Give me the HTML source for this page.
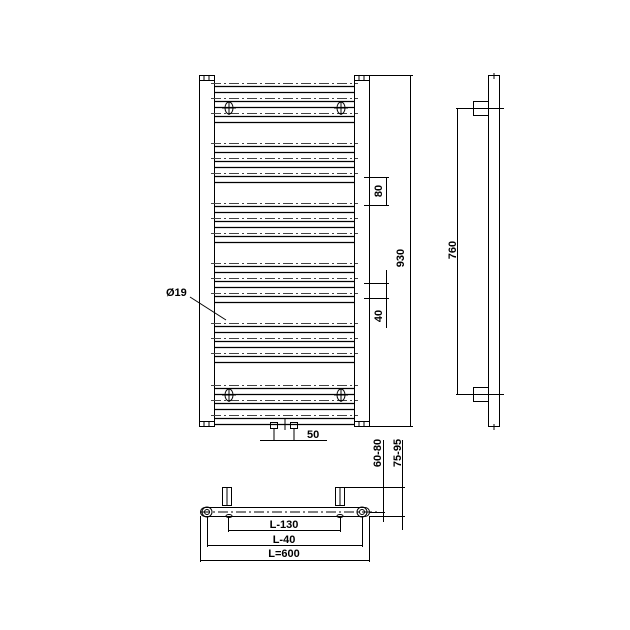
<!DOCTYPE html>
<html><head><style>body{margin:0;background:#fff}svg{display:block}</style></head><body>
<svg width="630" height="630" viewBox="0 0 630 630" xmlns="http://www.w3.org/2000/svg" font-family="Liberation Sans, sans-serif" font-weight="bold">
<rect width="630" height="630" fill="#fff"/>
<g stroke="#000" fill="none" stroke-width="1">
<rect x="199.5" y="75.5" width="15" height="351"/>
<rect x="354.5" y="75.5" width="15" height="351"/>
<rect x="199.5" y="75.5" width="15" height="5"/><rect x="354.5" y="75.5" width="15" height="5"/>
<rect x="199.5" y="421.5" width="15" height="5"/><rect x="354.5" y="421.5" width="15" height="5"/>
<path d="M204 75v5M209 75v5M359 75v5M364 75v5M204 422v5M209 422v5M359 422v5M364 422v5"/>
</g>
<g stroke="#000" stroke-width="1" fill="none">
<g id="grp">
<path d="M215 86.5h139M215 92.5h139M215 101.5h139M215 107.5h139M215 116.5h139M215 122.5h139" stroke-width="1.2"/>
<path d="M211 83.5h147M211 98.5h147M211 113.5h147" stroke-dasharray="10 3 2 3" stroke="#444"/>
</g>
<use href="#grp" y="60"/><use href="#grp" y="120"/><use href="#grp" y="180"/><use href="#grp" y="240"/><use href="#grp" y="302"/>
<ellipse cx="229" cy="108" rx="4" ry="6"/><ellipse cx="341" cy="108" rx="4" ry="6"/>
<ellipse cx="229" cy="395" rx="4" ry="6"/><ellipse cx="341" cy="395" rx="4" ry="6"/>
<path d="M222 108h14M229 101v14M334 108h14M341 101v14M222 395h14M229 388v14M334 395h14M341 388v14"/>
<path d="M369 75.5h44M369 426.5h44M410.5 76v350"/>
<path d="M364 177.5h25M364 205.5h25M386.5 177v28"/>
<path d="M364 283.5h25M364 298.5h25M386.5 270v58"/>
<path d="M190 297L226 320"/>
<rect x="270.5" y="422.5" width="7" height="6"/><rect x="290.5" y="422.5" width="7" height="6"/>
<path d="M274 428v12M294 428v12M285 418v12M260 440.5h67"/>
<rect x="488.5" y="75.5" width="11" height="351"/>
<rect x="473.5" y="101.5" width="15" height="14"/><rect x="473.5" y="387.5" width="15" height="14"/>
<path d="M456 108.5h48M456 394.5h48M457.5 109v285M494 73v6M494 424v6"/>
<rect x="200.5" y="507.5" width="169" height="9" rx="4.5"/>
<circle cx="207" cy="512" r="5"/><circle cx="207" cy="512" r="2.5"/>
<circle cx="362" cy="512" r="5"/><circle cx="362" cy="512" r="2.5"/>
<path d="M200 512h178" stroke-dasharray="10 3 2 3"/>
<rect x="222.5" y="487.5" width="9" height="18"/><rect x="335.5" y="487.5" width="9" height="18"/>
<path d="M227 488v18M340 488v18"/>
<ellipse cx="229" cy="516" rx="3" ry="1.5"/><ellipse cx="340" cy="516" rx="3" ry="1.5"/>
<path d="M228.5 516v16M340.5 516v16M228 530.5h112"/>
<path d="M207.5 516v31M362.5 516v31M207 545.5h155"/>
<path d="M200.5 516v46M369.5 516v46M200 560.5h169"/>
<path d="M345 487.5h60M370 512.5h15M370 516.5h35M383.5 440v82M402.5 440v90"/>
</g>
<g font-size="11" fill="#000">
<text x="404" y="258" transform="rotate(-90 404 258)" text-anchor="middle">930</text>
<text x="382" y="191" transform="rotate(-90 382 191)" text-anchor="middle">80</text>
<text x="382" y="316" transform="rotate(-90 382 316)" text-anchor="middle">40</text>
<text x="456" y="250" transform="rotate(-90 456 250)" text-anchor="middle">760</text>
<text x="166" y="296">Ø19</text>
<text x="307" y="438">50</text>
<text x="381" y="453" transform="rotate(-90 381 453)" text-anchor="middle">60-80</text>
<text x="401" y="453" transform="rotate(-90 401 453)" text-anchor="middle">75-95</text>
<text x="284" y="528" text-anchor="middle">L-130</text>
<text x="284" y="543" text-anchor="middle">L-40</text>
<text x="284" y="557" text-anchor="middle">L=600</text>
</g>
</svg>
</body></html>
